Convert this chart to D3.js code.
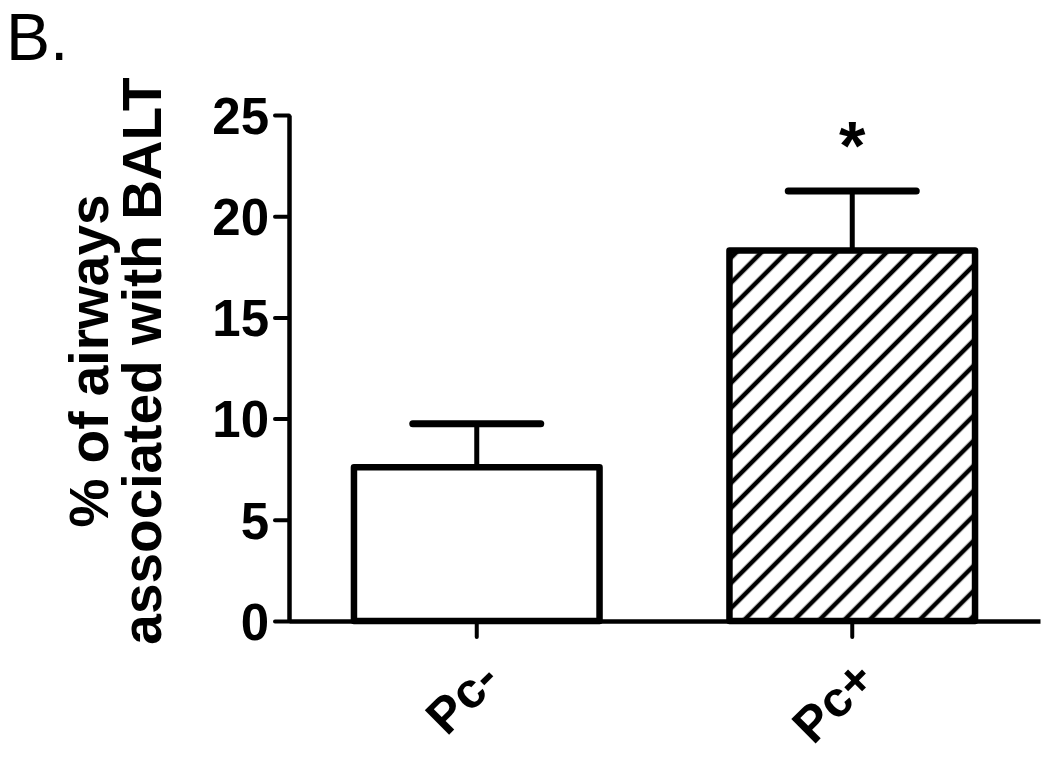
<!DOCTYPE html>
<html>
<head>
<meta charset="utf-8">
<script src="https://cdn.jsdelivr.net/npm/d3@7"></script>
<style>
  body { margin: 0; background: #fff; }
  svg { display: block; font-family: "Liberation Sans", Arial, sans-serif; }
</style>
</head>
<body>
<div id="chart"></div>
<script>
// valeurs
const groups = ["Pc-", "Pc+"];
const means = [7.6, 18.3];
const errors = [2.15, 2.95];
const yTicks = [0, 5, 10, 15, 20, 25];
const stars = ["", "*"];

const width = 1050, height = 758;
const margin = { top: 115, right: 10, bottom: 137, left: 289 };

const svg = d3.select("#chart").append("svg")
    .attr("width", width).attr("height", height);

// motif hachuré pour Pc+
const step = 17.7;
const defs = svg.append("defs");
const pat = defs.append("pattern")
    .attr("id", "hatch")
    .attr("patternUnits", "userSpaceOnUse")
    .attr("width", step).attr("height", step)
    .attr("patternTransform", "rotate(45)");
pat.append("rect").attr("width", step).attr("height", step).attr("fill", "#fff");
pat.append("line")
    .attr("x1", step / 2).attr("y1", 0).attr("x2", step / 2).attr("y2", step)
    .attr("stroke", "#000").attr("stroke-width", 4.5);

const x = d3.scaleBand()
    .domain(groups)
    .range([margin.left, width - margin.right])
    .paddingInner(0.33)
    .paddingOuter(0.165);

const y = d3.scaleLinear()
    .domain([0, 25])
    .range([height - margin.bottom, margin.top]);

// barres
svg.append("g")
    .selectAll("rect")
    .data(groups)
    .enter().append("rect")
    .attr("x", d => x(d) + 3)
    .attr("y", (d, i) => y(means[i]))
    .attr("width", x.bandwidth() - 6)
    .attr("height", (d, i) => y(0) - y(means[i]))
    .attr("fill", (d, i) => i === 1 ? "url(#hatch)" : "#fff")
    .attr("stroke", "#000")
    .attr("stroke-width", 6.5)
    .attr("stroke-linejoin", "round");

// barres d'erreur (vers le haut seulement)
const err = svg.append("g").attr("stroke", "#000").attr("stroke-linecap", "round");
err.selectAll("line.v")
    .data(groups)
    .enter().append("line")
    .attr("class", "v")
    .attr("x1", d => x(d) + x.bandwidth() / 2)
    .attr("x2", d => x(d) + x.bandwidth() / 2)
    .attr("y1", (d, i) => y(means[i]) - 3)
    .attr("y2", (d, i) => y(means[i] + errors[i]))
    .attr("stroke-width", 5);
err.selectAll("line.h")
    .data(groups)
    .enter().append("line")
    .attr("class", "h")
    .attr("x1", d => x(d) + x.bandwidth() / 2 - 64)
    .attr("x2", d => x(d) + x.bandwidth() / 2 + 64)
    .attr("y1", (d, i) => y(means[i] + errors[i]))
    .attr("y2", (d, i) => y(means[i] + errors[i]))
    .attr("stroke-width", 7);

// étoile de significativité
svg.append("g")
    .selectAll("text")
    .data(groups)
    .enter().append("text")
    .attr("x", d => x(d) + x.bandwidth() / 2)
    .attr("y", (d, i) => y(means[i] + errors[i]) - 22)
    .attr("text-anchor", "middle")
    .style("font-size", "68px")
    .style("font-weight", "bold")
    .text((d, i) => stars[i]);

// axe Y
const yAxis = svg.append("g")
    .attr("transform", `translate(${margin.left},0)`)
    .call(d3.axisLeft(y).tickValues(yTicks).tickSize(14).tickSizeOuter(0).tickPadding(6));
yAxis.select(".domain").attr("stroke-width", 4.5);
yAxis.selectAll(".tick line").attr("stroke-width", 4).attr("stroke-linecap", "round");
yAxis.selectAll(".tick text")
    .style("font-size", "51px")
    .style("font-weight", "bold")
    .attr("fill", "#000")
    .attr("dy", "0.36em");

// axe X
const xAxis = svg.append("g")
    .attr("transform", `translate(0,${y(0)})`)
    .call(d3.axisBottom(x).tickSize(16).tickSizeOuter(0).tickPadding(8));
xAxis.select(".domain").attr("stroke-width", 4.5);
xAxis.selectAll(".tick line").attr("stroke-width", 4).attr("stroke-linecap", "round");
xAxis.selectAll(".tick text")
    .style("font-size", "50px")
    .style("font-weight", "bold")
    .attr("fill", "#000")
    .style("text-anchor", "end")
    .attr("dy", 0)
    .attr("transform", "translate(8,44) rotate(-45)");

// titre de l'axe Y
const yTitle = svg.append("text")
    .attr("transform", "translate(0,361) rotate(-90)")
    .attr("text-anchor", "middle")
    .style("font-size", "55px")
    .style("font-weight", "bold");
yTitle.append("tspan").attr("x", 0).attr("y", 108).text("% of airways");
yTitle.append("tspan").attr("x", 0).attr("y", 161).text("associated with BALT");

// étiquette du panneau
svg.append("text")
    .attr("x", 6).attr("y", 60)
    .style("font-size", "66px")
    .text("B.");
</script>
</body>
</html>
